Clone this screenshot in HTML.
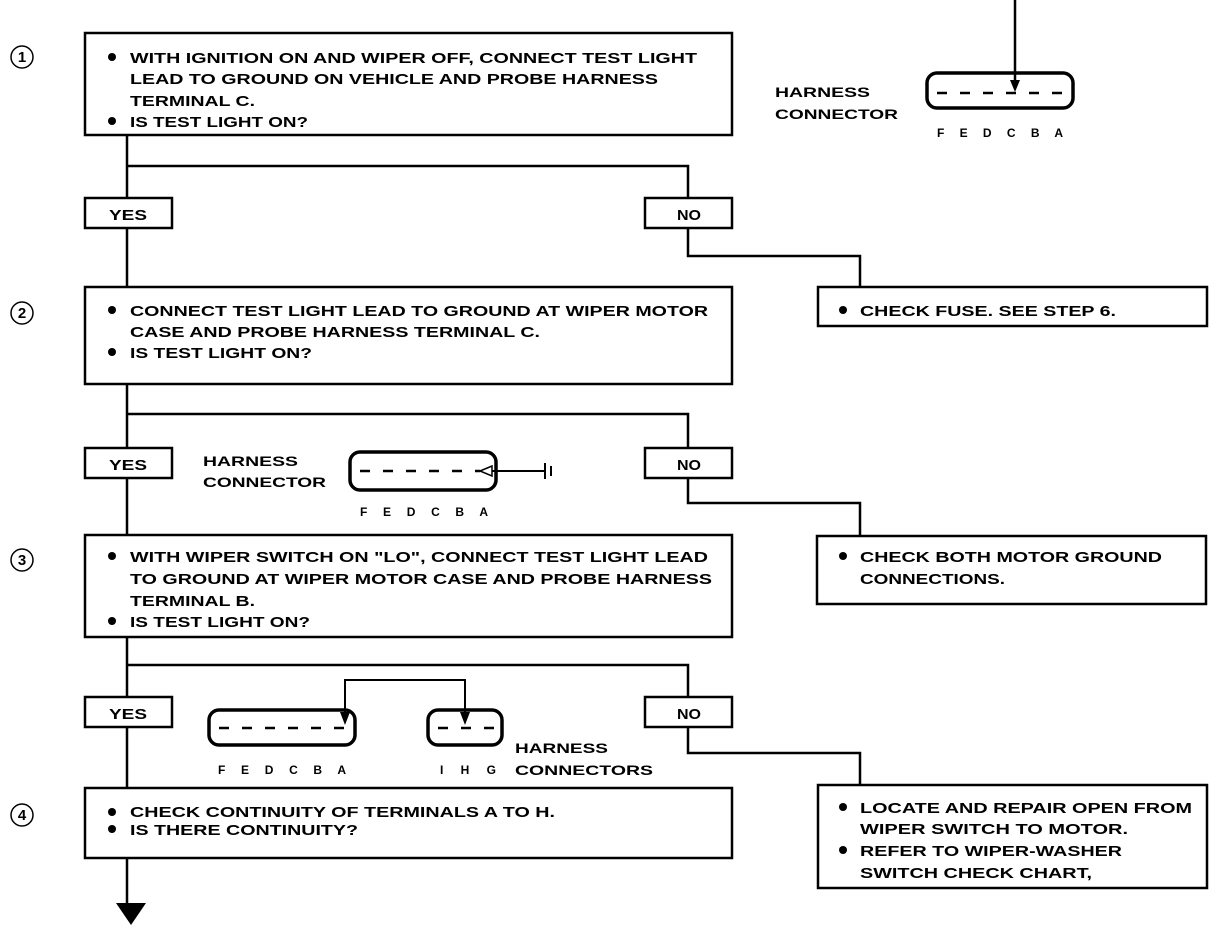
<!DOCTYPE html>
<html><head><meta charset="utf-8"><style>
html,body{margin:0;padding:0;background:#fff;}
svg{display:block}
text{font-family:"Liberation Sans",sans-serif;font-weight:bold;fill:#000;}
.t{font-size:15px}
.s{font-size:14px;font-weight:normal}
</style></head><body>
<svg width="1216" height="930" viewBox="0 0 1216 930" xmlns="http://www.w3.org/2000/svg">
<g fill="none" stroke="#000" stroke-width="2.5">
<rect x="85" y="33" width="647" height="102"/>
<rect x="85" y="287" width="647" height="97"/>
<rect x="85" y="535" width="647" height="102"/>
<rect x="85" y="788" width="647" height="70"/>
<rect x="818" y="287" width="389" height="39"/>
<rect x="817" y="536" width="389" height="68"/>
<rect x="818" y="785" width="389" height="103"/>
<rect x="85" y="198" width="87" height="30"/>
<rect x="645" y="198" width="87" height="30"/>
<rect x="85" y="448" width="87" height="30"/>
<rect x="645" y="448" width="87" height="30"/>
<rect x="85" y="697" width="87" height="30"/>
<rect x="645" y="697" width="87" height="30"/>
<path d="M127 135V198M127 228V287M127 384V448M127 478V535M127 637V697M127 727V788M127 858V905"/>
<path d="M127 166H688V198M688 228V256H860V287"/>
<path d="M127 414H688V448M688 478V503H860V536"/>
<path d="M127 665H688V697M688 727V753H860V785"/>
<rect x="927" y="73" width="146" height="35" rx="10" stroke-width="3.5"/>
<path d="M1015 0V88"/>
<rect x="350" y="452" width="146" height="38" rx="10" stroke-width="3.5"/>
<path d="M480 471H545M545 463V479M551 466V476" stroke-width="2"/>
<rect x="209" y="710" width="146" height="35" rx="10" stroke-width="3.5"/>
<rect x="428" y="710" width="74" height="35" rx="10" stroke-width="3.5"/>
<path d="M345 720V680H465V720" stroke-width="2"/>
</g>
<g stroke="#000" stroke-width="2.5" stroke-dasharray="10,13">
<path d="M937 93H1068"/>
<path d="M360 471H480"/>
<path d="M219 728H345"/>
<path d="M438 728H495"/>
</g>
<g fill="#000">
<polygon points="1010,80 1020,80 1015,92"/>
<polygon points="480,471 492,466 492,476" fill="#fff" stroke="#000" stroke-width="1.5"/>
<polygon points="340,712 350,712 345,725"/>
<polygon points="460,712 470,712 465,725"/>
<polygon points="116,903 146,903 131,925"/>
<circle cx="112" cy="57" r="4"/><circle cx="112" cy="121" r="4"/>
<circle cx="112" cy="310" r="4"/><circle cx="112" cy="352" r="4"/>
<circle cx="112" cy="556" r="4"/><circle cx="112" cy="621" r="4"/>
<circle cx="112" cy="812" r="4"/><circle cx="112" cy="829" r="4"/>
<circle cx="843" cy="310" r="4"/>
<circle cx="843" cy="556" r="4"/>
<circle cx="843" cy="807" r="4"/><circle cx="843" cy="850" r="4"/>
</g>
<g fill="none" stroke="#000" stroke-width="1.5">
<circle cx="22" cy="57" r="11"/><circle cx="22" cy="313" r="11"/>
<circle cx="22" cy="560" r="11"/><circle cx="22" cy="815" r="11"/>
</g>
<g font-size="15" text-anchor="middle">
<text x="22" y="62">1</text><text x="22" y="318">2</text><text x="22" y="565">3</text><text x="22" y="820">4</text>
</g>
<g class="t">
<text x="130" y="63" textLength="567" lengthAdjust="spacingAndGlyphs">WITH IGNITION ON AND WIPER OFF, CONNECT TEST LIGHT</text>
<text x="130" y="84" textLength="528" lengthAdjust="spacingAndGlyphs">LEAD TO GROUND ON VEHICLE AND PROBE HARNESS</text>
<text x="130" y="106" textLength="125" lengthAdjust="spacingAndGlyphs">TERMINAL C.</text>
<text x="130" y="127" textLength="178" lengthAdjust="spacingAndGlyphs">IS TEST LIGHT ON?</text>
<text x="130" y="316" textLength="578" lengthAdjust="spacingAndGlyphs">CONNECT TEST LIGHT LEAD TO GROUND AT WIPER MOTOR</text>
<text x="130" y="337" textLength="410" lengthAdjust="spacingAndGlyphs">CASE AND PROBE HARNESS TERMINAL  C.</text>
<text x="130" y="358" textLength="182" lengthAdjust="spacingAndGlyphs">IS TEST LIGHT ON?</text>
<text x="130" y="562" textLength="578" lengthAdjust="spacingAndGlyphs">WITH WIPER SWITCH ON "LO", CONNECT TEST LIGHT LEAD</text>
<text x="130" y="584" textLength="582" lengthAdjust="spacingAndGlyphs">TO GROUND AT WIPER MOTOR CASE AND PROBE HARNESS</text>
<text x="130" y="606" textLength="125" lengthAdjust="spacingAndGlyphs">TERMINAL  B.</text>
<text x="130" y="627" textLength="180" lengthAdjust="spacingAndGlyphs">IS TEST LIGHT ON?</text>
<text x="130" y="817" textLength="425" lengthAdjust="spacingAndGlyphs">CHECK CONTINUITY OF TERMINALS  A TO H.</text>
<text x="130" y="835" textLength="228" lengthAdjust="spacingAndGlyphs">IS THERE CONTINUITY?</text>
<text x="860" y="316" textLength="256" lengthAdjust="spacingAndGlyphs">CHECK FUSE. SEE STEP 6.</text>
<text x="860" y="562" textLength="302" lengthAdjust="spacingAndGlyphs">CHECK BOTH MOTOR GROUND</text>
<text x="860" y="584" textLength="145" lengthAdjust="spacingAndGlyphs">CONNECTIONS.</text>
<text x="860" y="813" textLength="332" lengthAdjust="spacingAndGlyphs">LOCATE AND REPAIR OPEN FROM</text>
<text x="860" y="834" textLength="268" lengthAdjust="spacingAndGlyphs">WIPER SWITCH TO MOTOR.</text>
<text x="860" y="856" textLength="262" lengthAdjust="spacingAndGlyphs">REFER TO WIPER-WASHER</text>
<text x="860" y="878" textLength="232" lengthAdjust="spacingAndGlyphs">SWITCH CHECK CHART,</text>
<text x="109" y="220" textLength="38" lengthAdjust="spacingAndGlyphs">YES</text>
<text x="677" y="220" textLength="24" lengthAdjust="spacingAndGlyphs">NO</text>
<text x="109" y="470" textLength="38" lengthAdjust="spacingAndGlyphs">YES</text>
<text x="677" y="470" textLength="24" lengthAdjust="spacingAndGlyphs">NO</text>
<text x="109" y="719" textLength="38" lengthAdjust="spacingAndGlyphs">YES</text>
<text x="677" y="719" textLength="24" lengthAdjust="spacingAndGlyphs">NO</text>
</g>
<g class="s">
<text x="775" y="97" textLength="95" lengthAdjust="spacingAndGlyphs">HARNESS</text>
<text x="775" y="119" textLength="123" lengthAdjust="spacingAndGlyphs">CONNECTOR</text>
<text x="203" y="466" textLength="95" lengthAdjust="spacingAndGlyphs">HARNESS</text>
<text x="203" y="487" textLength="123" lengthAdjust="spacingAndGlyphs">CONNECTOR</text>
<text x="515" y="753" textLength="93" lengthAdjust="spacingAndGlyphs">HARNESS</text>
<text x="515" y="775" textLength="138" lengthAdjust="spacingAndGlyphs">CONNECTORS</text>
</g>
<g font-size="12">
<text x="937" y="137" textLength="126" lengthAdjust="spacing">F E D C B A</text>
<text x="360" y="516" textLength="128" lengthAdjust="spacing">F E D C B A</text>
<text x="218" y="774" textLength="128" lengthAdjust="spacing">F E D C B A</text>
<text x="440" y="774" textLength="56" lengthAdjust="spacing">I H G</text>
</g>
</svg>
</body></html>
